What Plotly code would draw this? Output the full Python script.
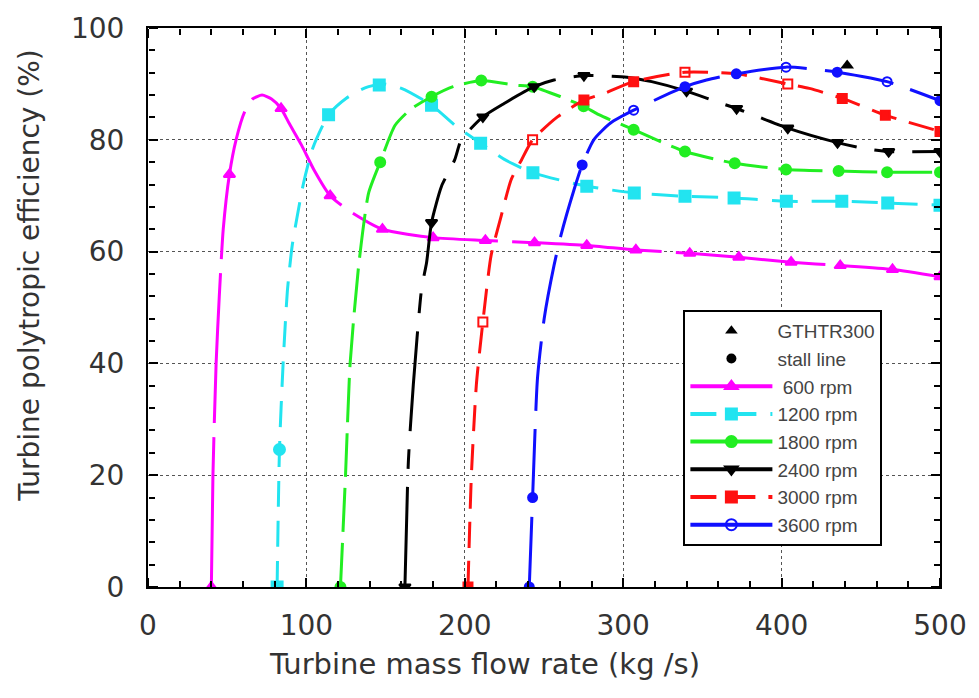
import plotly.graph_objects as go

# ---------------- data ----------------
rpm_labels = ["\u00a0600 rpm", "1200 rpm", "1800 rpm", "2400 rpm", "3000 rpm", "3600 rpm"]

x600 = [40, 41, 43, 45, 47.5, 51.4, 55.6, 61, 66, 72, 78, 84, 89, 97, 105, 115, 127, 148, 180, 213, 244, 277, 308, 342, 373, 406, 437, 470, 500]
y600 = [0, 20, 40, 52, 64, 73.8, 80, 85, 87.3, 88, 87.3, 85.6, 83, 79, 74.5, 70, 67.3, 64, 62.5, 62, 61.6, 61.1, 60.3, 59.7, 59, 58.1, 57.5, 56.8, 55.5]
mx600 = [40, 51.4, 84, 115, 148, 180, 213, 244, 277, 308, 342, 373, 406, 437, 470, 500]
my600 = [0, 73.8, 85.6, 70, 64, 62.5, 62, 61.6, 61.1, 60.3, 59.7, 59, 58.1, 57.5, 56.8, 55.5]

x1200 = [81.5, 83, 85.3, 88, 91, 94, 98, 104, 114, 125, 137, 148, 160, 179, 195, 210, 225, 243, 277, 307, 339, 370, 403, 438, 467, 500]
y1200 = [0, 24.6, 40, 53, 61, 66, 72, 78.5, 84.5, 87.4, 89.3, 90, 89.2, 86.2, 82.3, 79.4, 76.5, 74.1, 71.7, 70.5, 69.9, 69.6, 69, 69, 68.7, 68.3]
mx1200 = [81.5, 83, 114, 146, 179, 210, 243, 277, 307, 339, 370, 403, 438, 467, 500]
my1200 = [0, 24.6, 84.5, 89.8, 86.2, 79.4, 74.1, 71.7, 70.5, 69.9, 69.6, 69, 69, 68.7, 68.3]

x1800 = [121.5, 124.7, 127.6, 133, 139.3, 146.6, 156, 166, 179, 192.6, 210.4, 231, 242.8, 260.6, 275, 284.6, 306.6, 339, 370.4, 402.8, 436, 466.6, 500]
y1800 = [0, 20, 40, 57.5, 70.5, 76, 82.6, 85.5, 87.7, 89.5, 90.6, 89.8, 89.5, 87.7, 86, 84.5, 81.8, 77.9, 75.8, 74.7, 74.4, 74.2, 74.2]
mx1800 = [121.5, 146.6, 179, 210.4, 242.8, 275, 306.6, 339, 370.4, 402.8, 436, 466.6, 500]
my1800 = [0, 76, 87.7, 90.6, 89.5, 86, 81.8, 77.9, 75.8, 74.7, 74.4, 74.2, 74.2]

x2400 = [162.2, 164.4, 167.5, 172.7, 175.9, 179, 185.3, 193.6, 197.8, 211.4, 224.8, 243.8, 256.3, 275.2, 302.4, 318, 340, 359, 371.6, 403.9, 435.3, 451, 467.6, 500]
y2400 = [0, 22.6, 36.2, 53.3, 58.1, 65.2, 71.7, 76.4, 80, 84.1, 86.5, 89.5, 90.7, 91.5, 91.2, 90.4, 88.7, 86.8, 85.6, 82.1, 79.5, 78.5, 77.9, 77.9]
mx2400 = [162.2, 179, 211.4, 243.8, 275.2, 340, 371.6, 403.9, 435.3, 467.6, 500]
my2400 = [0, 65.2, 84.1, 89.5, 91.5, 88.7, 85.6, 82.1, 79.5, 77.9, 77.9]

x3000 = [202, 204.1, 207.3, 211.4, 216.6, 223, 229.3, 235.8, 242.8, 258.5, 275.2, 288, 306.6, 339, 371.4, 403.9, 417.5, 438.3, 465.5, 500]
y3000 = [0, 19.6, 36.2, 47.4, 59.3, 66.4, 72.9, 76.4, 80, 84.1, 87.1, 88.3, 90.4, 92.1, 91.8, 90, 89.2, 87.4, 84.4, 81.5]
mx3000 = [202, 211.4, 242.8, 275.2, 306.6, 339, 403.9, 438.3, 465.5, 500]
my3000 = [0, 47.4, 80, 87.1, 90.4, 92.1, 90, 87.4, 84.4, 81.5]

x3600 = [240.7, 242.8, 245.9, 250.1, 256.3, 260.6, 269, 274.1, 281.4, 292, 306.6, 339, 352.6, 371.4, 402.8, 435.1, 466.6, 500]
y3600 = [0, 16, 37.4, 48, 57.5, 62.8, 71.1, 75.5, 80, 83, 85.3, 89.5, 90.7, 91.8, 93, 92.1, 90.4, 87]
mx3600 = [240.7, 242.8, 274.1, 306.6, 339, 371.4, 402.8, 435.1, 466.6, 500]
my3600 = [0, 16, 75.5, 85.3, 89.5, 91.8, 93, 92.1, 90.4, 87]

gthtr_x = [441.4]
gthtr_y = [93.3]

x_range = [0, 500]
y_range = [0, 100]
x_title = "Turbine mass flow rate (kg /s)"
y_title = "Turbine polytropic efficiency (%)"

# ---------------- styles ----------------
curves = [
    (x600, y600, mx600, my600),
    (x1200, y1200, mx1200, my1200),
    (x1800, y1800, mx1800, my1800),
    (x2400, y2400, mx2400, my2400),
    (x3000, y3000, mx3000, my3000),
    (x3600, y3600, mx3600, my3600),
]
colors = ["#ff00ff", "#22e4f0", "#22ee22", "#000000", "#ff1010", "#1010ff"]
dashes = ["150px,14px", "26px,14px", "44px,11px", "100px,18px,20px,18px", "26px,13px", "70px,18px"]
blue_syms = ["circle", "circle", "circle", "circle-open", "circle", "circle", "circle-open", "circle", "circle-open", "circle"]
cyan_syms = ["square", "circle"] + ["square"] * 13
red_syms = ["square", "square-open", "square-open", "square", "square", "square-open", "square-open", "square", "square", "square"]
marker_syms = ["triangle-up", cyan_syms, "circle", "triangle-down", red_syms, blue_syms]
marker_sizes = [10, 11, 10, 10, 9, 9]
legend_dash = ["solid", "26px,14px", "solid", "solid", "26px,13px", "solid"]
leg_syms = ["triangle-up", "square", "circle", "triangle-down", "square", "circle-open"]

fig = go.Figure()

for (cx, cy, mx, my), col, dash, msym, msz in zip(curves, colors, dashes, marker_syms, marker_sizes):
    fig.add_trace(go.Scatter(x=cx, y=cy, mode="lines",
                             line=dict(color=col, width=3, dash=dash, shape="spline", smoothing=0.6),
                             showlegend=False, hoverinfo="skip"))
    fig.add_trace(go.Scatter(x=mx, y=my, mode="markers",
                             marker=dict(color=col, symbol=msym, size=msz,
                                         line=dict(color=col, width=2)),
                             showlegend=False))

fig.add_trace(go.Scatter(x=gthtr_x, y=gthtr_y, mode="markers",
                         marker=dict(color="black", symbol="triangle-up", size=12),
                         showlegend=False))

# legend entries
fig.add_trace(go.Scatter(x=[None], y=[None], mode="markers", name="GTHTR300",
                         marker=dict(color="black", symbol="triangle-up", size=11)))
fig.add_trace(go.Scatter(x=[None], y=[None], mode="markers", name="stall line",
                         marker=dict(color="black", symbol="circle", size=10)))
for name, col, ld, sym in zip(rpm_labels, colors, legend_dash, leg_syms):
    fig.add_trace(go.Scatter(x=[None], y=[None], mode="lines+markers", name=name,
                             line=dict(color=col, width=4, dash=ld),
                             marker=dict(color=col, symbol=sym, size=11, line=dict(color=col, width=2))))

# empty traces that attach the tick-only overlay axes
for k in (2, 3, 4, 5):
    fig.add_trace(go.Scatter(x=[None], y=[None], xaxis=f"x{k}", yaxis=f"y{k}",
                             showlegend=False, hoverinfo="skip"))

tickfont = dict(family="DejaVu Sans", size=28, color="#333333")
grid = dict(showgrid=True, gridcolor="#555555", griddash="dot")

# main axes: labels, grid and frame; transparent outside ticks only push the labels out
fig.update_layout(
    xaxis=dict(range=x_range, dtick=100, ticks="outside", ticklen=12, tickcolor="rgba(0,0,0,0)",
               showline=True, linecolor="black", linewidth=2, mirror=True,
               zeroline=False, tickfont=tickfont, **grid),
    yaxis=dict(range=y_range, dtick=20, ticks="outside", ticklen=16, tickcolor="rgba(0,0,0,0)",
               showline=True, linecolor="black", linewidth=2, mirror=True,
               zeroline=False, tickfont=tickfont, **grid),
)

# overlay axes whose outside ticks point into the plot (major + minor, all four sides)
def tick_axis(rng, dtick, length, overlay, side, pos):
    return dict(range=rng, dtick=dtick, overlaying=overlay, side=side, anchor="free", position=pos,
                ticks="outside", ticklen=length, tickwidth=2, tickcolor="black",
                showticklabels=False, showgrid=False, zeroline=False, showline=False)

fig.update_layout(
    xaxis2=tick_axis(x_range, 100, 9, "x", "top", 0),
    xaxis3=tick_axis(x_range, 100, 9, "x", "bottom", 1),
    xaxis4=tick_axis(x_range, 20, 6, "x", "top", 0),
    xaxis5=tick_axis(x_range, 20, 6, "x", "bottom", 1),
    yaxis2=tick_axis(y_range, 20, 9, "y", "right", 0),
    yaxis3=tick_axis(y_range, 20, 9, "y", "left", 1),
    yaxis4=tick_axis(y_range, 4, 6, "y", "right", 0),
    yaxis5=tick_axis(y_range, 4, 6, "y", "left", 1),
)

fig.update_layout(
    width=979, height=698,
    margin=dict(l=148, r=34, t=24, b=111),
    paper_bgcolor="white", plot_bgcolor="white",
    legend=dict(x=0.676, y=0.4956, xanchor="left", yanchor="top",
                bgcolor="white", bordercolor="black", borderwidth=2,
                font=dict(family="Liberation Sans, Arial", size=19, color="#444444"),
                itemwidth=82, tracegroupgap=0),
    annotations=[
        dict(text=x_title, xref="paper", yref="paper", x=0.425, y=-0.1385,
             xanchor="center", yanchor="middle", showarrow=False,
             font=dict(family="DejaVu Sans", size=29, color="#333333")),
        dict(text=y_title, xref="paper", yref="paper", x=-0.149, y=0.557,
             xanchor="center", yanchor="middle", textangle=-90, showarrow=False,
             font=dict(family="DejaVu Sans", size=28, color="#333333")),
    ],
)

fig.write_html("out.html")
